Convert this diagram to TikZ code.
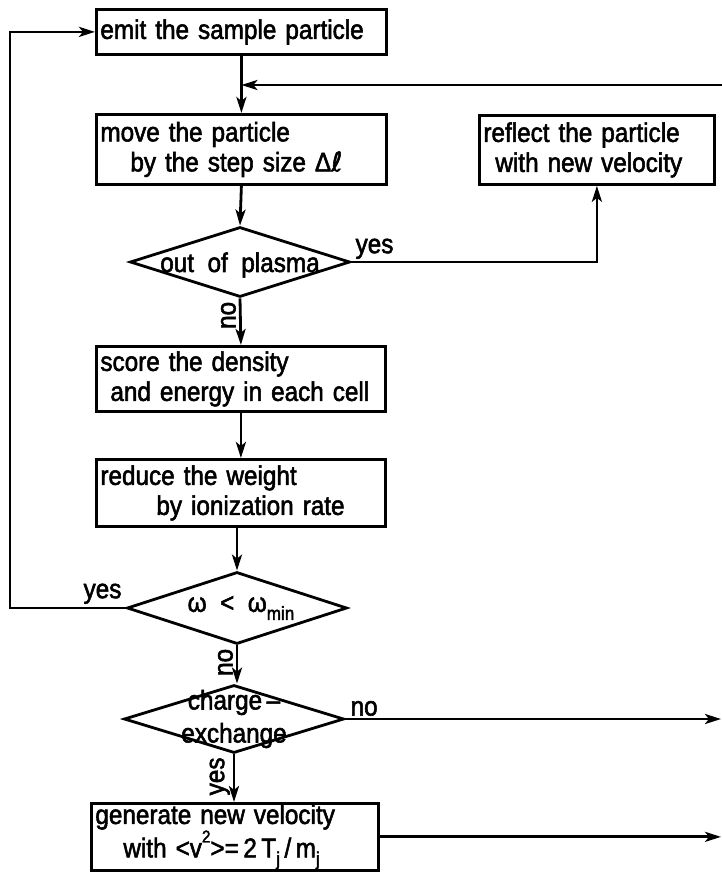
\documentclass[tikz,border=0pt]{standalone}
\usepackage{fontspec}
\setmainfont{Liberation Sans}[FakeStretch=0.9,WordSpace=2.0,FakeBold=2]
\newfontfamily\dvs{DejaVu Sans}[FakeBold=2]
\usetikzlibrary{shapes.geometric,arrows.meta}
\newcommand{\fs}{\fontsize{27}{30}\selectfont}
\newcommand{\mysup}[1]{\raisebox{0.55em}{\fontsize{17}{17}\selectfont #1}}
\newcommand{\mysub}[1]{\raisebox{-0.3em}{\fontsize{19}{19}\selectfont #1}}
\tikzset{
  box/.style={draw, line width=2.8pt, rectangle, anchor=north west, inner xsep=4pt, inner ysep=2pt, align=left, font=\fs},
  dia/.style={draw, line width=2.8pt, diamond, inner sep=0pt, minimum width=220pt},
  conn/.style={line width=2.8pt, -{Stealth[length=16pt,width=10pt,inset=4pt]}},
  lbl/.style={font=\fs, inner sep=1pt},
  dtext/.style={font=\fs, inner sep=0pt, align=center}
}
\begin{document}
\begin{tikzpicture}[x=1pt,y=-1pt]
\useasboundingbox (0,0) rectangle (722,873);
% boxes
\node[box, text width=282pt, minimum height=45pt] (emit) at (95,8) {emit the sample particle};
\node[box, text width=282pt, minimum height=70pt] (move) at (95,113) {move the particle\\\hspace*{30pt}by the step size Δ{\dvs ℓ}};
\node[box, text width=227pt, minimum height=69pt] (refl) at (478,114) {reflect the particle\\\hspace*{12pt}with new velocity};
\node[box, text width=281pt, minimum height=65pt] (score) at (95,345) {score the density\\\hspace*{10pt}and energy in each cell};
\node[box, text width=281pt, minimum height=67pt] (reduce) at (95,458) {reduce the weight\\\hspace*{56pt}by ionization rate};
\node[box, text width=279pt, minimum height=62pt, inner ysep=1pt] (gen) at (90,802) {generate new velocity\\\hspace*{28pt}with <v\mysup{2}>=\,2\,T\mysub{j}\,/\,m\mysub{j}};
% diamonds
\node[dia, minimum height=70pt] (d1) at (240,262) {};
\node[dtext] at ([yshift=-3pt]d1.center) {out of plasma};
\node[dia, minimum height=72pt] (w) at (237,608) {};
\node[dtext] at ([xshift=4pt]w.center) {ω < ω\mysub{min}};
\node[dia, minimum height=68pt] (c) at (234,719) {};
\node[dtext] at (c.center) {charge\,–\\[3pt]exchange};
% free ends
\coordinate (mergeR) at (722,85);
\coordinate (lft) at (10,0);
\coordinate (rgt) at (721,0);
% connectors
\draw[conn] (emit.south) -- (move.north);
\draw[conn] (mergeR) -- (mergeR -| move.north);
\draw[conn] (move.south) -- (d1.north);
\draw[conn] (d1.east) -| (refl.south);
\draw[conn] (d1.south) -- (score.north);
\draw[conn] (score.south) -- (reduce.north);
\draw[conn] (reduce.south -| w.north) -- (w.north);
\draw[conn] (w.west) -- (w.west -| lft) |- (emit.west);
\draw[conn] (w.south) -- (w.south |- c.north);
\draw[conn] (c.east) -- (c.east -| rgt);
\draw[conn] (c.south) -- (c.south |- gen.north);
\draw[conn] (gen.east) -- (gen.east -| rgt);
% labels
\node[lbl, anchor=south west] at ([xshift=3pt,yshift=2pt]d1.east) {yes};
\node[lbl, rotate=90, anchor=south] at ([shift={(-3pt,-17pt)}]d1.south) {no};
\node[lbl, anchor=south east] at ([xshift=-3pt,yshift=3pt]w.west) {yes};
\node[lbl, rotate=90, anchor=south] at ([shift={(-3pt,-17pt)}]w.south) {no};
\node[lbl, anchor=south west] at ([xshift=4pt,yshift=2pt]c.east) {no};
\node[lbl, rotate=90, anchor=south] at ([shift={(-3pt,-22pt)}]c.south) {yes};
\end{tikzpicture}
\end{document}
